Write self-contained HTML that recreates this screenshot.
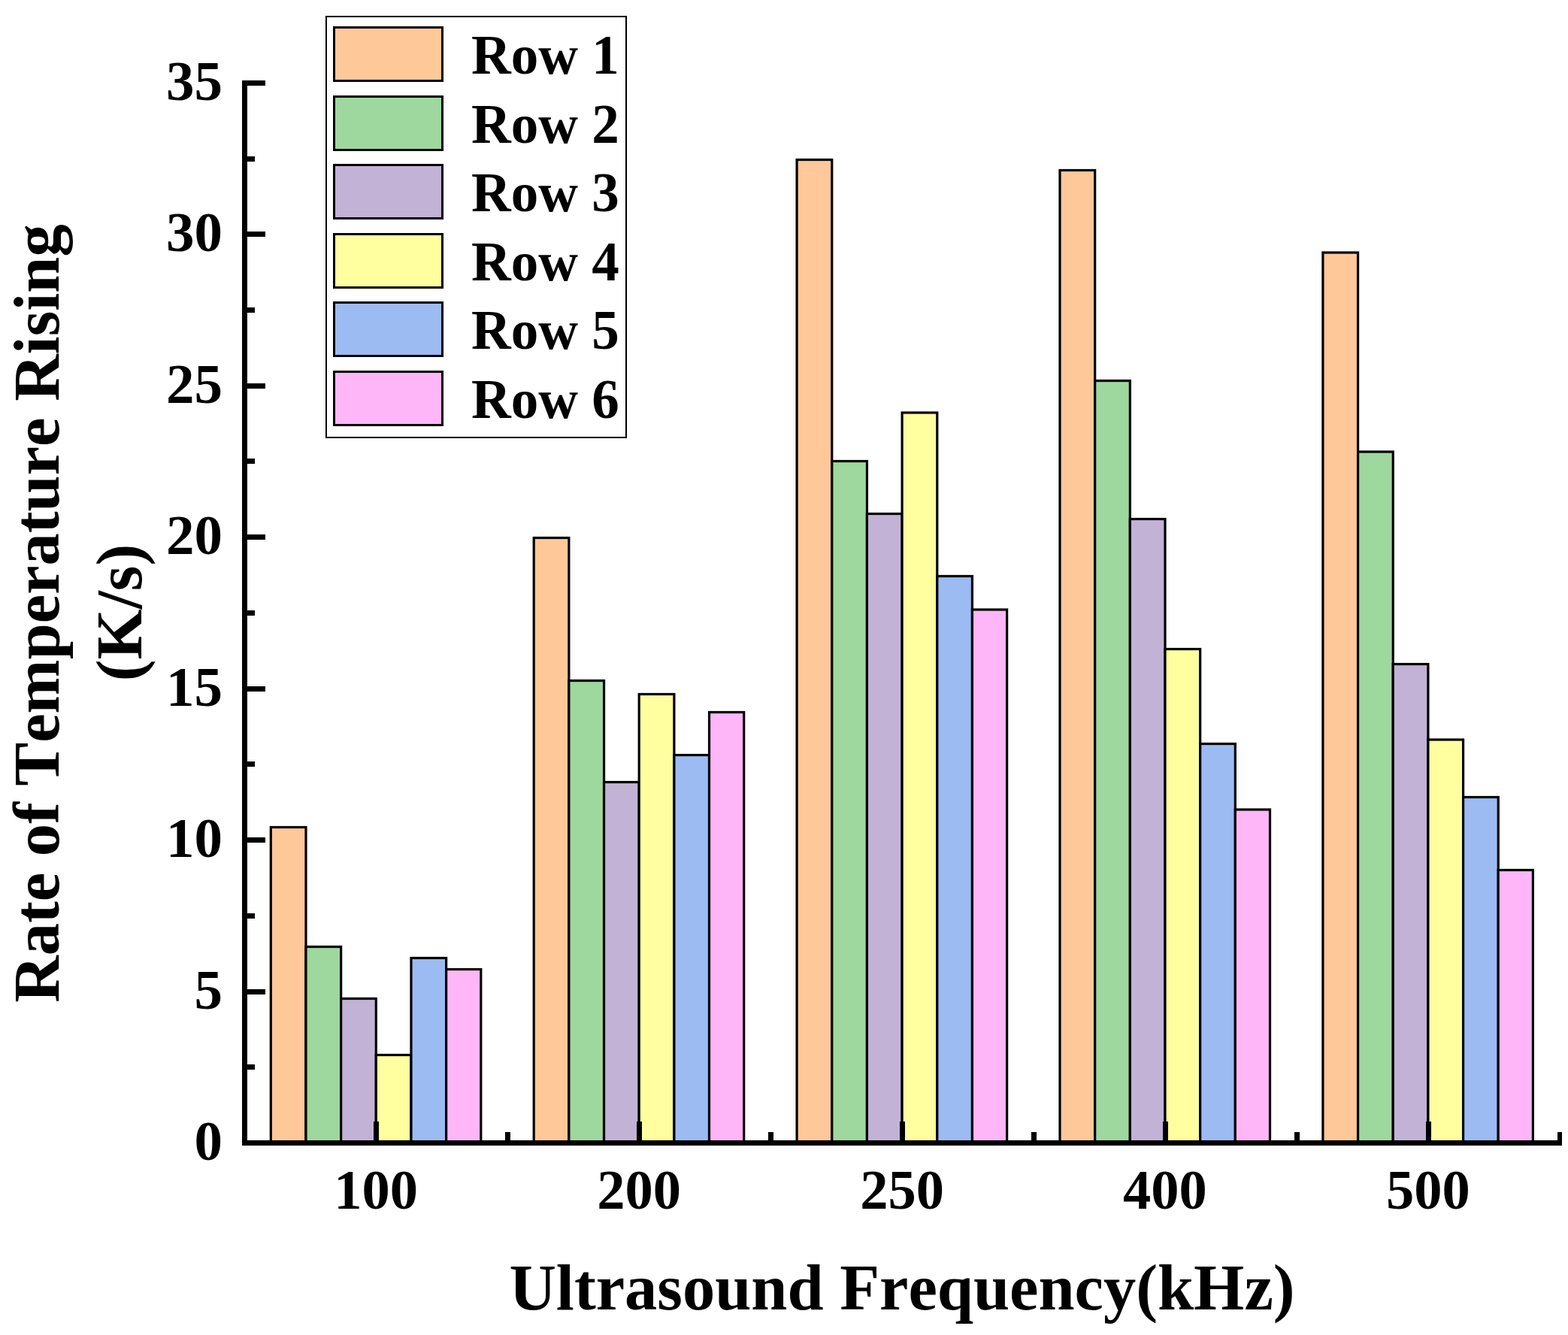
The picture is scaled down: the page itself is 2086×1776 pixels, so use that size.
<!DOCTYPE html>
<html lang="en"><head><meta charset="utf-8"><title>Rate of Temperature Rising vs Ultrasound Frequency</title>
<style>html,body{margin:0;padding:0;background:#fff}body{width:2086px;height:1776px;overflow:hidden}svg{display:block}</style>
</head><body>
<svg width="2086" height="1776" viewBox="0 0 2086 1776">
<rect width="2086" height="1776" fill="#fff"/>
<g stroke="#000" stroke-width="3.2">
<rect x="360.30" y="1100.50" width="46.67" height="420.00" fill="#FFC899"/>
<rect x="406.97" y="1259.50" width="46.67" height="261.00" fill="#9ED89E"/>
<rect x="453.63" y="1328.50" width="46.67" height="192.00" fill="#C2B2D6"/>
<rect x="500.30" y="1403.50" width="46.67" height="117.00" fill="#FFFFA0"/>
<rect x="546.97" y="1274.50" width="46.67" height="246.00" fill="#9DBBF3"/>
<rect x="593.63" y="1289.50" width="46.17" height="231.00" fill="#FFB6F8"/>
<rect x="710.20" y="715.50" width="46.67" height="805.00" fill="#FFC899"/>
<rect x="756.87" y="905.50" width="46.67" height="615.00" fill="#9ED89E"/>
<rect x="803.53" y="1040.50" width="46.67" height="480.00" fill="#C2B2D6"/>
<rect x="850.20" y="923.50" width="46.67" height="597.00" fill="#FFFFA0"/>
<rect x="896.87" y="1004.50" width="46.67" height="516.00" fill="#9DBBF3"/>
<rect x="943.53" y="947.50" width="46.17" height="573.00" fill="#FFB6F8"/>
<rect x="1060.10" y="212.50" width="46.67" height="1308.00" fill="#FFC899"/>
<rect x="1106.77" y="613.50" width="46.67" height="907.00" fill="#9ED89E"/>
<rect x="1153.43" y="683.50" width="46.67" height="837.00" fill="#C2B2D6"/>
<rect x="1200.10" y="549.00" width="46.67" height="971.50" fill="#FFFFA0"/>
<rect x="1246.77" y="766.50" width="46.67" height="754.00" fill="#9DBBF3"/>
<rect x="1293.43" y="811.00" width="46.17" height="709.50" fill="#FFB6F8"/>
<rect x="1410.00" y="226.50" width="46.67" height="1294.00" fill="#FFC899"/>
<rect x="1456.67" y="506.50" width="46.67" height="1014.00" fill="#9ED89E"/>
<rect x="1503.33" y="690.50" width="46.67" height="830.00" fill="#C2B2D6"/>
<rect x="1550.00" y="863.50" width="46.67" height="657.00" fill="#FFFFA0"/>
<rect x="1596.67" y="989.50" width="46.67" height="531.00" fill="#9DBBF3"/>
<rect x="1643.33" y="1077.00" width="46.17" height="443.50" fill="#FFB6F8"/>
<rect x="1759.90" y="336.00" width="46.67" height="1184.50" fill="#FFC899"/>
<rect x="1806.57" y="601.00" width="46.67" height="919.50" fill="#9ED89E"/>
<rect x="1853.23" y="883.50" width="46.67" height="637.00" fill="#C2B2D6"/>
<rect x="1899.90" y="984.00" width="46.67" height="536.50" fill="#FFFFA0"/>
<rect x="1946.57" y="1060.50" width="46.67" height="460.00" fill="#9DBBF3"/>
<rect x="1993.23" y="1157.50" width="46.17" height="363.00" fill="#FFB6F8"/>
</g>
<g fill="#000" shape-rendering="crispEdges">
<rect x="322.0" y="106.99" width="7" height="1417.01"/>
<rect x="322.0" y="1517.0" width="1756.0" height="7"/>
<rect x="329.0" y="1517" width="24" height="7"/>
<rect x="329.0" y="1416" width="10" height="6.5"/>
<rect x="329.0" y="1316" width="24" height="7"/>
<rect x="329.0" y="1215" width="10" height="6.5"/>
<rect x="329.0" y="1114" width="24" height="7"/>
<rect x="329.0" y="1013" width="10" height="6.5"/>
<rect x="329.0" y="913" width="24" height="7"/>
<rect x="329.0" y="812" width="10" height="6.5"/>
<rect x="329.0" y="711" width="24" height="7"/>
<rect x="329.0" y="610" width="10" height="6.5"/>
<rect x="329.0" y="510" width="24" height="7"/>
<rect x="329.0" y="409" width="10" height="6.5"/>
<rect x="329.0" y="308" width="24" height="7"/>
<rect x="329.0" y="208" width="10" height="6.5"/>
<rect x="329.0" y="107" width="24" height="7"/>
<rect x="322" y="1506.00" width="7" height="11"/>
<rect x="497" y="1492.00" width="7" height="25"/>
<rect x="672" y="1506.00" width="7" height="11"/>
<rect x="847" y="1492.00" width="7" height="25"/>
<rect x="1022" y="1506.00" width="7" height="11"/>
<rect x="1197" y="1492.00" width="7" height="25"/>
<rect x="1372" y="1506.00" width="7" height="11"/>
<rect x="1547" y="1492.00" width="7" height="25"/>
<rect x="1722" y="1506.00" width="7" height="11"/>
<rect x="1897" y="1492.00" width="7" height="25"/>
<rect x="2072" y="1506.00" width="6" height="11"/>
</g>
<g font-family="'Liberation Serif','Times New Roman',serif" font-weight="bold" fill="#000" style="font-kerning:none;font-variant-ligatures:none">
<text x="296" y="1543.00" font-size="75" text-anchor="end">0</text>
<text x="296" y="1341.57" font-size="75" text-anchor="end">5</text>
<text x="296" y="1140.14" font-size="75" text-anchor="end">10</text>
<text x="296" y="938.71" font-size="75" text-anchor="end">15</text>
<text x="296" y="737.28" font-size="75" text-anchor="end">20</text>
<text x="296" y="535.85" font-size="75" text-anchor="end">25</text>
<text x="296" y="334.42" font-size="75" text-anchor="end">30</text>
<text x="296" y="132.99" font-size="75" text-anchor="end">35</text>
<text x="500.2" y="1608" font-size="74.5" text-anchor="middle">100</text>
<text x="850.1" y="1608" font-size="74.5" text-anchor="middle">200</text>
<text x="1200.0" y="1608" font-size="74.5" text-anchor="middle">250</text>
<text x="1549.9" y="1608" font-size="74.5" text-anchor="middle">400</text>
<text x="1899.8" y="1608" font-size="74.5" text-anchor="middle">500</text>
<text x="1200" y="1742" font-size="86.5" text-anchor="middle">Ultrasound Frequency(kHz)</text>
<text transform="translate(78,816) rotate(-90)" font-size="86.5" text-anchor="middle">Rate of Temperature Rising</text>
<text transform="translate(188,815) rotate(-90)" font-size="86.5" text-anchor="middle">(K/s)</text>
</g>
<rect x="434" y="22" width="399" height="560" fill="#fff" stroke="#000" stroke-width="2" shape-rendering="crispEdges"/>
<g font-family="'Liberation Serif','Times New Roman',serif" font-weight="bold" fill="#000" style="font-kerning:none;font-variant-ligatures:none">
<rect x="444.5" y="36.50" width="144" height="71" fill="#FFC899" stroke="#000" stroke-width="3" shape-rendering="crispEdges"/>
<text x="627" y="98.20" font-size="73">Row 1</text>
<rect x="444.5" y="128.05" width="144" height="71" fill="#9ED89E" stroke="#000" stroke-width="3" shape-rendering="crispEdges"/>
<text x="627" y="189.75" font-size="73">Row 2</text>
<rect x="444.5" y="219.60" width="144" height="71" fill="#C2B2D6" stroke="#000" stroke-width="3" shape-rendering="crispEdges"/>
<text x="627" y="281.30" font-size="73">Row 3</text>
<rect x="444.5" y="311.15" width="144" height="71" fill="#FFFFA0" stroke="#000" stroke-width="3" shape-rendering="crispEdges"/>
<text x="627" y="372.85" font-size="73">Row 4</text>
<rect x="444.5" y="402.70" width="144" height="71" fill="#9DBBF3" stroke="#000" stroke-width="3" shape-rendering="crispEdges"/>
<text x="627" y="464.40" font-size="73">Row 5</text>
<rect x="444.5" y="494.25" width="144" height="71" fill="#FFB6F8" stroke="#000" stroke-width="3" shape-rendering="crispEdges"/>
<text x="627" y="555.95" font-size="73">Row 6</text>
</g>
</svg>
</body></html>
